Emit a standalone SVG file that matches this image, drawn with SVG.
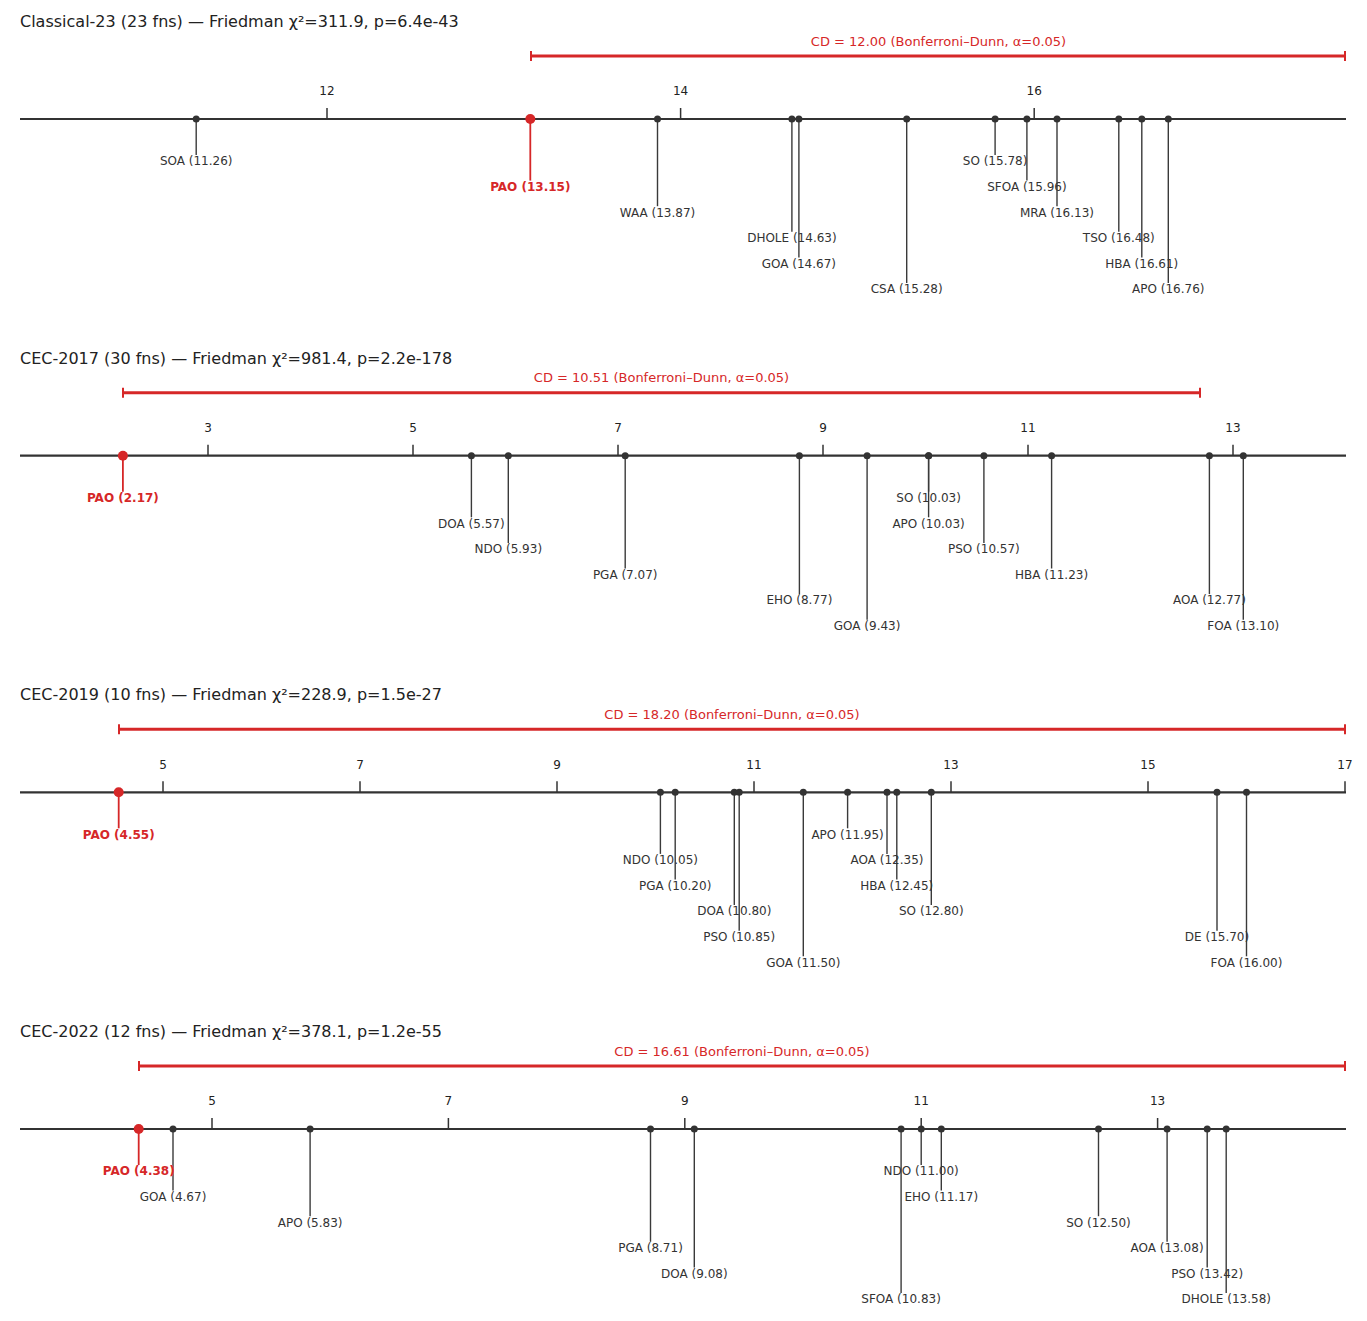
<svg xmlns="http://www.w3.org/2000/svg" width="1367" height="1321" viewBox="0 0 1367 1321">
<style>
text{font-family:"DejaVu Sans","Liberation Sans",sans-serif}
.title{font-size:16px;fill:#222}
.cd{font-size:13px;fill:#d62728;text-anchor:middle}
.tk{font-size:12px;fill:#222;text-anchor:middle}
.lbl{font-size:12px;fill:#333;text-anchor:middle}
.pao{font-weight:bold;fill:#d62728}
.axis{stroke:#333;stroke-width:2.2}
.tick{stroke:#333;stroke-width:1.5}
.stem{stroke:#3a3a3a;stroke-width:1.4}
.pstem{stroke:#d62728;stroke-width:1.8}
.dot{fill:#333}
.pdot{fill:#d62728}
.cdbar{stroke:#d62728;stroke-width:3}
.cap{stroke:#d62728;stroke-width:2}
</style>
<rect width="1367" height="1321" fill="#fff"/>

<!-- Panel 1 -->
<g id="panel-classical23">
<text class="title" x="20" y="27">Classical-23 (23 fns) — Friedman χ²=311.9, p=6.4e-43</text>
<g id="p1-cd"><line class="cdbar" x1="530.3" y1="56" x2="1346" y2="56"/><line class="cap" x1="531" y1="51" x2="531" y2="61"/><line class="cap" x1="1345" y1="51" x2="1345" y2="61"/><text class="cd" x="938.5" y="45.5">CD = 12.00 (Bonferroni–Dunn, α=0.05)</text></g>
<g id="p1-axis"><line class="axis" x1="20" y1="119" x2="1346" y2="119"/>
<line class="tick" x1="327" y1="108" x2="327" y2="119"/><line class="tick" x1="680.6" y1="108" x2="680.6" y2="119"/><line class="tick" x1="1034.2" y1="108" x2="1034.2" y2="119"/>
<text class="tk" x="327" y="95.4">12</text><text class="tk" x="680.6" y="95.4">14</text><text class="tk" x="1034.2" y="95.4">16</text></g>
<g id="p1-connectors">
<line class="stem" x1="196.2" y1="119" x2="196.2" y2="155"/>
<line class="pstem" x1="530.3" y1="119" x2="530.3" y2="180.6"/>
<line class="stem" x1="657.5" y1="119" x2="657.5" y2="206.2"/>
<line class="stem" x1="791.9" y1="119" x2="791.9" y2="231.8"/>
<line class="stem" x1="798.9" y1="119" x2="798.9" y2="257.4"/>
<line class="stem" x1="906.7" y1="119" x2="906.7" y2="283"/>
<line class="stem" x1="995.1" y1="119" x2="995.1" y2="155"/>
<line class="stem" x1="1026.9" y1="119" x2="1026.9" y2="180.6"/>
<line class="stem" x1="1057" y1="119" x2="1057" y2="206.2"/>
<line class="stem" x1="1118.8" y1="119" x2="1118.8" y2="231.8"/>
<line class="stem" x1="1141.8" y1="119" x2="1141.8" y2="257.4"/>
<line class="stem" x1="1168.3" y1="119" x2="1168.3" y2="283"/>
</g>
<g id="p1-soa"><circle class="dot" cx="196.2" cy="119" r="3.5"/><text class="lbl" x="196.2" y="165.4">SOA (11.26)</text></g>
<g id="p1-pao"><circle class="pdot" cx="530.3" cy="119" r="5"/><text class="lbl pao" x="530.3" y="191">PAO (13.15)</text></g>
<g id="p1-waa"><circle class="dot" cx="657.5" cy="119" r="3.5"/><text class="lbl" x="657.5" y="216.6">WAA (13.87)</text></g>
<g id="p1-dhole"><circle class="dot" cx="791.9" cy="119" r="3.5"/><text class="lbl" x="791.9" y="242.2">DHOLE (14.63)</text></g>
<g id="p1-goa"><circle class="dot" cx="798.9" cy="119" r="3.5"/><text class="lbl" x="798.9" y="267.8">GOA (14.67)</text></g>
<g id="p1-csa"><circle class="dot" cx="906.7" cy="119" r="3.5"/><text class="lbl" x="906.7" y="293.4">CSA (15.28)</text></g>
<g id="p1-so"><circle class="dot" cx="995.1" cy="119" r="3.5"/><text class="lbl" x="995.1" y="165.4">SO (15.78)</text></g>
<g id="p1-sfoa"><circle class="dot" cx="1026.9" cy="119" r="3.5"/><text class="lbl" x="1026.9" y="191">SFOA (15.96)</text></g>
<g id="p1-mra"><circle class="dot" cx="1057" cy="119" r="3.5"/><text class="lbl" x="1057" y="216.6">MRA (16.13)</text></g>
<g id="p1-tso"><circle class="dot" cx="1118.8" cy="119" r="3.5"/><text class="lbl" x="1118.8" y="242.2">TSO (16.48)</text></g>
<g id="p1-hba"><circle class="dot" cx="1141.8" cy="119" r="3.5"/><text class="lbl" x="1141.8" y="267.8">HBA (16.61)</text></g>
<g id="p1-apo"><circle class="dot" cx="1168.3" cy="119" r="3.5"/><text class="lbl" x="1168.3" y="293.4">APO (16.76)</text></g>
</g>

<!-- Panel 2 -->
<g id="panel-cec2017" transform="translate(0,336.7)">
<text class="title" x="20" y="27">CEC-2017 (30 fns) — Friedman χ²=981.4, p=2.2e-178</text>
<g id="p2-cd"><line class="cdbar" x1="122.9" y1="56" x2="1200.2" y2="56"/><line class="cap" x1="123" y1="51" x2="123" y2="61"/><line class="cap" x1="1200" y1="51" x2="1200" y2="61"/><text class="cd" x="661.5" y="45.5">CD = 10.51 (Bonferroni–Dunn, α=0.05)</text></g>
<g id="p2-axis"><line class="axis" x1="20" y1="119" x2="1346" y2="119"/>
<line class="tick" x1="208" y1="108" x2="208" y2="119"/><line class="tick" x1="413" y1="108" x2="413" y2="119"/><line class="tick" x1="618" y1="108" x2="618" y2="119"/><line class="tick" x1="823" y1="108" x2="823" y2="119"/><line class="tick" x1="1028" y1="108" x2="1028" y2="119"/><line class="tick" x1="1233" y1="108" x2="1233" y2="119"/>
<text class="tk" x="208" y="95.4">3</text><text class="tk" x="413" y="95.4">5</text><text class="tk" x="618" y="95.4">7</text><text class="tk" x="823" y="95.4">9</text><text class="tk" x="1028" y="95.4">11</text><text class="tk" x="1233" y="95.4">13</text></g>
<g id="p2-connectors">
<line class="pstem" x1="122.9" y1="119" x2="122.9" y2="155"/>
<line class="stem" x1="471.4" y1="119" x2="471.4" y2="180.6"/>
<line class="stem" x1="508.3" y1="119" x2="508.3" y2="206.2"/>
<line class="stem" x1="625.2" y1="119" x2="625.2" y2="231.8"/>
<line class="stem" x1="799.4" y1="119" x2="799.4" y2="257.4"/>
<line class="stem" x1="867.1" y1="119" x2="867.1" y2="283"/>
<line class="stem" x1="928.6" y1="119" x2="928.6" y2="155"/>
<line class="stem" x1="928.6" y1="119" x2="928.6" y2="180.6"/>
<line class="stem" x1="983.9" y1="119" x2="983.9" y2="206.2"/>
<line class="stem" x1="1051.6" y1="119" x2="1051.6" y2="231.8"/>
<line class="stem" x1="1209.4" y1="119" x2="1209.4" y2="257.4"/>
<line class="stem" x1="1243.3" y1="119" x2="1243.3" y2="283"/>
</g>
<g id="p2-pao"><circle class="pdot" cx="122.9" cy="119" r="5"/><text class="lbl pao" x="122.9" y="165.4">PAO (2.17)</text></g>
<g id="p2-doa"><circle class="dot" cx="471.4" cy="119" r="3.5"/><text class="lbl" x="471.4" y="191">DOA (5.57)</text></g>
<g id="p2-ndo"><circle class="dot" cx="508.3" cy="119" r="3.5"/><text class="lbl" x="508.3" y="216.6">NDO (5.93)</text></g>
<g id="p2-pga"><circle class="dot" cx="625.2" cy="119" r="3.5"/><text class="lbl" x="625.2" y="242.2">PGA (7.07)</text></g>
<g id="p2-eho"><circle class="dot" cx="799.4" cy="119" r="3.5"/><text class="lbl" x="799.4" y="267.8">EHO (8.77)</text></g>
<g id="p2-goa"><circle class="dot" cx="867.1" cy="119" r="3.5"/><text class="lbl" x="867.1" y="293.4">GOA (9.43)</text></g>
<g id="p2-so"><circle class="dot" cx="928.6" cy="119" r="3.5"/><text class="lbl" x="928.6" y="165.4">SO (10.03)</text></g>
<g id="p2-apo"><circle class="dot" cx="928.6" cy="119" r="3.5"/><text class="lbl" x="928.6" y="191">APO (10.03)</text></g>
<g id="p2-pso"><circle class="dot" cx="983.9" cy="119" r="3.5"/><text class="lbl" x="983.9" y="216.6">PSO (10.57)</text></g>
<g id="p2-hba"><circle class="dot" cx="1051.6" cy="119" r="3.5"/><text class="lbl" x="1051.6" y="242.2">HBA (11.23)</text></g>
<g id="p2-aoa"><circle class="dot" cx="1209.4" cy="119" r="3.5"/><text class="lbl" x="1209.4" y="267.8">AOA (12.77)</text></g>
<g id="p2-foa"><circle class="dot" cx="1243.3" cy="119" r="3.5"/><text class="lbl" x="1243.3" y="293.4">FOA (13.10)</text></g>
</g>

<!-- Panel 3 -->
<g id="panel-cec2019" transform="translate(0,673.3)">
<text class="title" x="20" y="27">CEC-2019 (10 fns) — Friedman χ²=228.9, p=1.5e-27</text>
<g id="p3-cd"><line class="cdbar" x1="118.7" y1="56" x2="1346" y2="56"/><line class="cap" x1="119" y1="51" x2="119" y2="61"/><line class="cap" x1="1345" y1="51" x2="1345" y2="61"/><text class="cd" x="732" y="45.5">CD = 18.20 (Bonferroni–Dunn, α=0.05)</text></g>
<g id="p3-axis"><line class="axis" x1="20" y1="119" x2="1346" y2="119"/>
<line class="tick" x1="163" y1="108" x2="163" y2="119"/><line class="tick" x1="360" y1="108" x2="360" y2="119"/><line class="tick" x1="557" y1="108" x2="557" y2="119"/><line class="tick" x1="754" y1="108" x2="754" y2="119"/><line class="tick" x1="951" y1="108" x2="951" y2="119"/><line class="tick" x1="1148" y1="108" x2="1148" y2="119"/><line class="tick" x1="1345" y1="108" x2="1345" y2="119"/>
<text class="tk" x="163" y="95.4">5</text><text class="tk" x="360" y="95.4">7</text><text class="tk" x="557" y="95.4">9</text><text class="tk" x="754" y="95.4">11</text><text class="tk" x="951" y="95.4">13</text><text class="tk" x="1148" y="95.4">15</text><text class="tk" x="1345" y="95.4">17</text></g>
<g id="p3-connectors">
<line class="pstem" x1="118.7" y1="119" x2="118.7" y2="155"/>
<line class="stem" x1="660.4" y1="119" x2="660.4" y2="180.6"/>
<line class="stem" x1="675.2" y1="119" x2="675.2" y2="206.2"/>
<line class="stem" x1="734.3" y1="119" x2="734.3" y2="231.8"/>
<line class="stem" x1="739.2" y1="119" x2="739.2" y2="257.4"/>
<line class="stem" x1="803.3" y1="119" x2="803.3" y2="283"/>
<line class="stem" x1="847.6" y1="119" x2="847.6" y2="155"/>
<line class="stem" x1="887" y1="119" x2="887" y2="180.6"/>
<line class="stem" x1="896.8" y1="119" x2="896.8" y2="206.2"/>
<line class="stem" x1="931.3" y1="119" x2="931.3" y2="231.8"/>
<line class="stem" x1="1217" y1="119" x2="1217" y2="257.4"/>
<line class="stem" x1="1246.5" y1="119" x2="1246.5" y2="283"/>
</g>
<g id="p3-pao"><circle class="pdot" cx="118.7" cy="119" r="5"/><text class="lbl pao" x="118.7" y="165.4">PAO (4.55)</text></g>
<g id="p3-ndo"><circle class="dot" cx="660.4" cy="119" r="3.5"/><text class="lbl" x="660.4" y="191">NDO (10.05)</text></g>
<g id="p3-pga"><circle class="dot" cx="675.2" cy="119" r="3.5"/><text class="lbl" x="675.2" y="216.6">PGA (10.20)</text></g>
<g id="p3-doa"><circle class="dot" cx="734.3" cy="119" r="3.5"/><text class="lbl" x="734.3" y="242.2">DOA (10.80)</text></g>
<g id="p3-pso"><circle class="dot" cx="739.2" cy="119" r="3.5"/><text class="lbl" x="739.2" y="267.8">PSO (10.85)</text></g>
<g id="p3-goa"><circle class="dot" cx="803.3" cy="119" r="3.5"/><text class="lbl" x="803.3" y="293.4">GOA (11.50)</text></g>
<g id="p3-apo"><circle class="dot" cx="847.6" cy="119" r="3.5"/><text class="lbl" x="847.6" y="165.4">APO (11.95)</text></g>
<g id="p3-aoa"><circle class="dot" cx="887" cy="119" r="3.5"/><text class="lbl" x="887" y="191">AOA (12.35)</text></g>
<g id="p3-hba"><circle class="dot" cx="896.8" cy="119" r="3.5"/><text class="lbl" x="896.8" y="216.6">HBA (12.45)</text></g>
<g id="p3-so"><circle class="dot" cx="931.3" cy="119" r="3.5"/><text class="lbl" x="931.3" y="242.2">SO (12.80)</text></g>
<g id="p3-de"><circle class="dot" cx="1217" cy="119" r="3.5"/><text class="lbl" x="1217" y="267.8">DE (15.70)</text></g>
<g id="p3-foa"><circle class="dot" cx="1246.5" cy="119" r="3.5"/><text class="lbl" x="1246.5" y="293.4">FOA (16.00)</text></g>
</g>

<!-- Panel 4 -->
<g id="panel-cec2022" transform="translate(0,1010)">
<text class="title" x="20" y="27">CEC-2022 (12 fns) — Friedman χ²=378.1, p=1.2e-55</text>
<g id="p4-cd"><line class="cdbar" x1="138.7" y1="56" x2="1346" y2="56"/><line class="cap" x1="139" y1="51" x2="139" y2="61"/><line class="cap" x1="1345" y1="51" x2="1345" y2="61"/><text class="cd" x="742" y="45.5">CD = 16.61 (Bonferroni–Dunn, α=0.05)</text></g>
<g id="p4-axis"><line class="axis" x1="20" y1="119" x2="1346" y2="119"/>
<line class="tick" x1="212" y1="108" x2="212" y2="119"/><line class="tick" x1="448.4" y1="108" x2="448.4" y2="119"/><line class="tick" x1="684.8" y1="108" x2="684.8" y2="119"/><line class="tick" x1="921.2" y1="108" x2="921.2" y2="119"/><line class="tick" x1="1157.6" y1="108" x2="1157.6" y2="119"/>
<text class="tk" x="212" y="95.4">5</text><text class="tk" x="448.4" y="95.4">7</text><text class="tk" x="684.8" y="95.4">9</text><text class="tk" x="921.2" y="95.4">11</text><text class="tk" x="1157.6" y="95.4">13</text></g>
<g id="p4-connectors">
<line class="pstem" x1="138.7" y1="119" x2="138.7" y2="155"/>
<line class="stem" x1="173" y1="119" x2="173" y2="180.6"/>
<line class="stem" x1="310.1" y1="119" x2="310.1" y2="206.2"/>
<line class="stem" x1="650.5" y1="119" x2="650.5" y2="231.8"/>
<line class="stem" x1="694.3" y1="119" x2="694.3" y2="257.4"/>
<line class="stem" x1="901.1" y1="119" x2="901.1" y2="283"/>
<line class="stem" x1="921.2" y1="119" x2="921.2" y2="155"/>
<line class="stem" x1="941.3" y1="119" x2="941.3" y2="180.6"/>
<line class="stem" x1="1098.5" y1="119" x2="1098.5" y2="206.2"/>
<line class="stem" x1="1167.1" y1="119" x2="1167.1" y2="231.8"/>
<line class="stem" x1="1207.2" y1="119" x2="1207.2" y2="257.4"/>
<line class="stem" x1="1226.2" y1="119" x2="1226.2" y2="283"/>
</g>
<g id="p4-pao"><circle class="pdot" cx="138.7" cy="119" r="5"/><text class="lbl pao" x="138.7" y="165.4">PAO (4.38)</text></g>
<g id="p4-goa"><circle class="dot" cx="173" cy="119" r="3.5"/><text class="lbl" x="173" y="191">GOA (4.67)</text></g>
<g id="p4-apo"><circle class="dot" cx="310.1" cy="119" r="3.5"/><text class="lbl" x="310.1" y="216.6">APO (5.83)</text></g>
<g id="p4-pga"><circle class="dot" cx="650.5" cy="119" r="3.5"/><text class="lbl" x="650.5" y="242.2">PGA (8.71)</text></g>
<g id="p4-doa"><circle class="dot" cx="694.3" cy="119" r="3.5"/><text class="lbl" x="694.3" y="267.8">DOA (9.08)</text></g>
<g id="p4-sfoa"><circle class="dot" cx="901.1" cy="119" r="3.5"/><text class="lbl" x="901.1" y="293.4">SFOA (10.83)</text></g>
<g id="p4-ndo"><circle class="dot" cx="921.2" cy="119" r="3.5"/><text class="lbl" x="921.2" y="165.4">NDO (11.00)</text></g>
<g id="p4-eho"><circle class="dot" cx="941.3" cy="119" r="3.5"/><text class="lbl" x="941.3" y="191">EHO (11.17)</text></g>
<g id="p4-so"><circle class="dot" cx="1098.5" cy="119" r="3.5"/><text class="lbl" x="1098.5" y="216.6">SO (12.50)</text></g>
<g id="p4-aoa"><circle class="dot" cx="1167.1" cy="119" r="3.5"/><text class="lbl" x="1167.1" y="242.2">AOA (13.08)</text></g>
<g id="p4-pso"><circle class="dot" cx="1207.2" cy="119" r="3.5"/><text class="lbl" x="1207.2" y="267.8">PSO (13.42)</text></g>
<g id="p4-dhole"><circle class="dot" cx="1226.2" cy="119" r="3.5"/><text class="lbl" x="1226.2" y="293.4">DHOLE (13.58)</text></g>
</g>
</svg>
